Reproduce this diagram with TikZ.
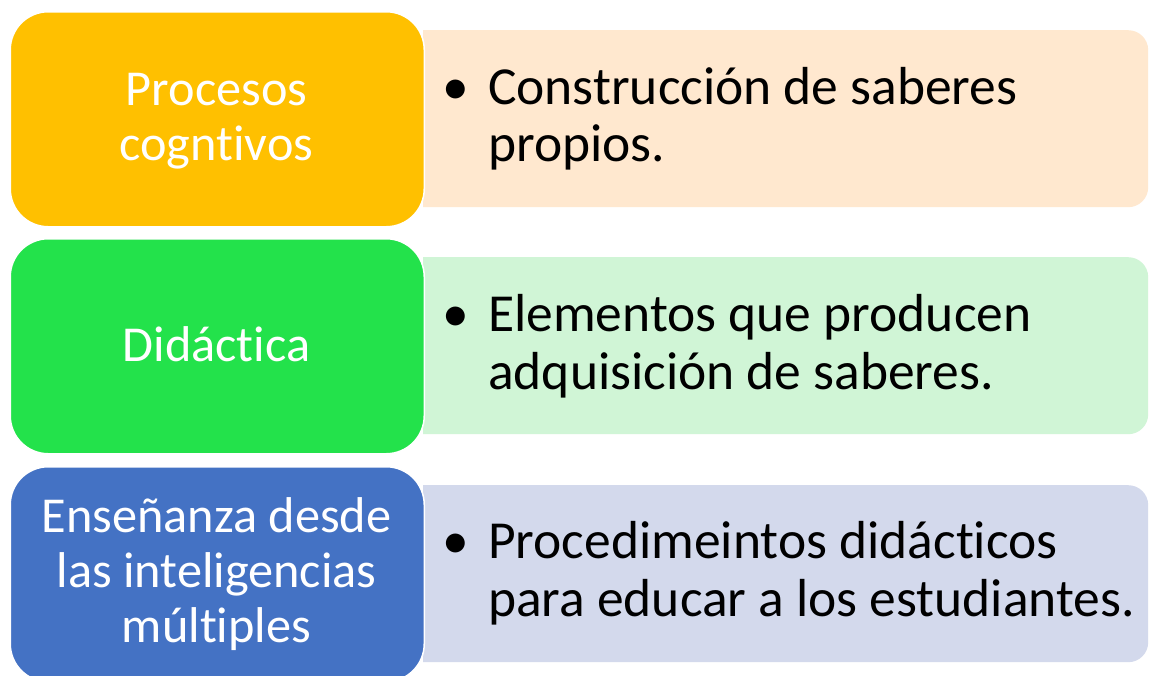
\documentclass[tikz,border=0pt]{standalone}
\usepackage{fontspec}
\setmainfont[RawFeature={-liga;-clig;-calt;-dlig}]{Carlito}
\definecolor{cOrange}{HTML}{FFC000}
\definecolor{cGreen}{HTML}{23E24B}
\definecolor{cBlue}{HTML}{4472C4}
\definecolor{lOrange}{HTML}{FFE8CF}
\definecolor{lGreen}{HTML}{D0F5D6}
\definecolor{lBlue}{HTML}{D3D9EC}
\begin{document}
\begin{tikzpicture}[x=1pt,y=-1pt,
  catbox/.style={draw=white, line width=1.5pt, rounded corners=38pt, inner sep=0pt,
    minimum width=414pt, minimum height=215pt, anchor=north west},
  descbox/.style={rounded corners=20pt, inner sep=0pt, minimum height=177pt,
    minimum width=760pt, anchor=north west},
  cattext/.style={text=white, align=center, font=\fontsize{50.3}{55}\selectfont},
  desctext/.style={text=black, align=left, anchor=base west, inner sep=0pt,
    font=\fontsize{53.5}{57.5}\selectfont},
]
\useasboundingbox (0,0) rectangle (1150,675);
\fill[white] (0,0) rectangle (1150,675);
% description boxes (left part hidden by clip)
\begin{scope}
  \clip (423,0) rectangle (1150,675);
  \node[descbox, fill=lOrange] (d1) at (388,30) {};
  \node[descbox, fill=lGreen]  (d2) at (388,257) {};
  \node[descbox, fill=lBlue]   (d3) at (388,485) {};
\end{scope}
% category boxes
\node[catbox, fill=cOrange] (c1) at (9.5,11) {};
\node[catbox, fill=cGreen]  (c2) at (9.5,238) {};
\node[catbox, fill=cBlue]   (c3) at (9.5,466) {};
% category texts
\node[cattext] (t1) at (216.5,121) {Procesos\\cogntivos};
\node[cattext] (t2) at (216.5,344) {Didáctica};
\node[cattext] (t3) at (216.5,574) {Enseñanza desde\\las inteligencias\\múltiples};
% description texts (base = last line)
\node[desctext] (e1) at (488,161.7) {\llap{•\hspace{19pt}}Construcción de saberes\\propios.};
\node[desctext] (e2) at (488,389) {\llap{•\hspace{19pt}}Elementos que producen\\adquisición de saberes.};
\node[desctext] (e3) at (488,616) {\llap{•\hspace{19pt}}Procedimeintos didácticos\\para educar a los estudiantes.};
\end{tikzpicture}
\end{document}
